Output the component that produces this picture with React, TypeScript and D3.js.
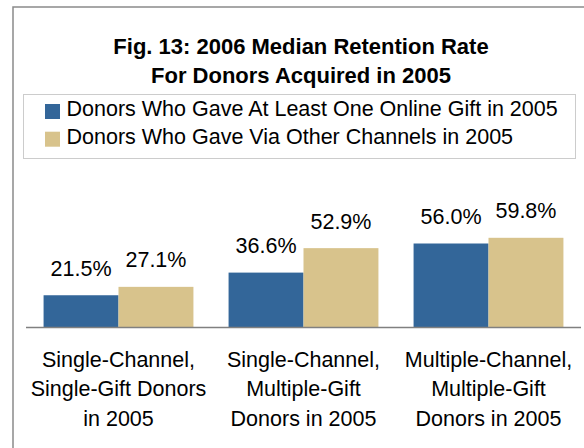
import * as d3 from "d3";

const categories = [
  ["Single-Channel,", "Single-Gift Donors", "in 2005"],
  ["Single-Channel,", "Multiple-Gift", "Donors in 2005"],
  ["Multiple-Channel,", "Multiple-Gift", "Donors in 2005"],
];
const seriesNames = [
  "Donors Who Gave At Least One Online Gift in 2005",
  "Donors Who Gave Via Other Channels in 2005",
];
const onlineValues = [21.5, 36.6, 56.0];
const otherValues = [27.1, 52.9, 59.8];
const colors = ["#336699", "#d8c38c"];

const W = 584;
const H = 448;
const font = "Arial, 'Liberation Sans', Helvetica, sans-serif";

const App = () => {
  const series = [onlineValues, otherValues];

  const x = d3
    .scaleBand<number>()
    .domain(d3.range(categories.length))
    .range([26, 581])
    .paddingInner(0.19)
    .paddingOuter(0.095);

  const xs = d3
    .scaleBand<number>()
    .domain(d3.range(series.length))
    .range([0, x.bandwidth()]);

  const y = d3.scaleLinear().domain([0, 100]).range([327.5, 177.5]);

  return (
    <svg
      width={W}
      height={H}
      style={{ position: "absolute", left: 0, top: 0, background: "#fff" }}
      fontFamily={font}
    >
      <rect x={13} y={7} width={620} height={500} fill="#fff" stroke="#8a8a8a" strokeWidth={1.5} />

      <text x={301} y={53.5} textAnchor="middle" fontSize={22} fontWeight="bold" fill="#000">
        Fig. 13: 2006 Median Retention Rate
      </text>
      <text x={301} y={82.5} textAnchor="middle" fontSize={22} fontWeight="bold" fill="#000">
        For Donors Acquired in 2005
      </text>

      <rect x={23.5} y={94.5} width={552} height={64} fill="#fff" stroke="#cccccc" strokeWidth={1} />
      {seriesNames.map((name, i) => (
        <g key={name}>
          <rect x={45} y={104 + i * 27.7} width={15} height={15} fill={colors[i]} />
          <text x={66.5} y={116 + i * 28} fontSize={21.5} fill="#000">
            {name}
          </text>
        </g>
      ))}

      {categories.map((_, ci) => (
        <g key={ci} transform={`translate(${x(ci)},0)`}>
          {series.map((vals, si) => (
            <g key={si}>
              <rect
                x={xs(si)}
                y={y(vals[ci])}
                width={xs.bandwidth()}
                height={y(0) - y(vals[ci])}
                fill={colors[si]}
              />
              <text
                x={(xs(si) ?? 0) + xs.bandwidth() / 2}
                y={y(vals[ci]) - 19.5}
                textAnchor="middle"
                fontSize={21.5}
                fill="#000"
              >
                {d3.format(".1f")(vals[ci])}%
              </text>
            </g>
          ))}
        </g>
      ))}

      <line x1={26} x2={581} y1={y(0)} y2={y(0)} stroke="#808080" strokeWidth={1.5} />

      {categories.map((lines, ci) => (
        <text
          key={ci}
          x={(x(ci) ?? 0) + x.bandwidth() / 2}
          textAnchor="middle"
          fontSize={21.5}
          fill="#000"
        >
          {lines.map((ln, li) => (
            <tspan key={li} x={(x(ci) ?? 0) + x.bandwidth() / 2} y={366.5 + li * 29.5}>
              {ln}
            </tspan>
          ))}
        </text>
      ))}
    </svg>
  );
};

export default App;
